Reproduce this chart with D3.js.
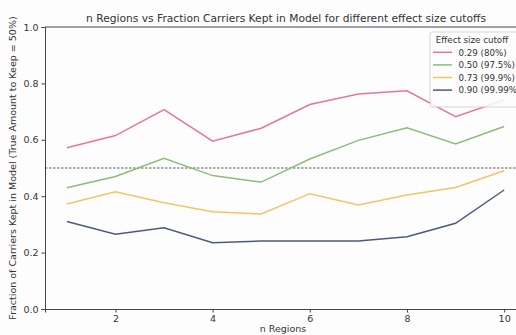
<!DOCTYPE html>
<html>
<head>
<meta charset="utf-8">
<script src="https://cdn.jsdelivr.net/npm/d3@7"></script>
<style>
  html, body { margin: 0; padding: 0; background: #fdfdfe; }
  svg { display: block; }
  text { font-family: "DejaVu Sans", sans-serif; fill: #333; }
</style>
</head>
<body>
<svg id="chart" width="516" height="335"></svg>
<script>
// Number of regions on the x axis
const nRegions = [1, 2, 3, 4, 5, 6, 7, 8, 9, 10];

// Fraction of carriers kept per effect size cutoff
const cutoff029 = [0.572, 0.615, 0.707, 0.595, 0.641, 0.725, 0.762, 0.774, 0.682, 0.741];
const cutoff050 = [0.430, 0.470, 0.534, 0.473, 0.450, 0.532, 0.598, 0.643, 0.585, 0.647];
const cutoff073 = [0.372, 0.416, 0.377, 0.345, 0.337, 0.409, 0.369, 0.404, 0.431, 0.490];
const cutoff090 = [0.310, 0.265, 0.288, 0.235, 0.241, 0.241, 0.241, 0.256, 0.304, 0.422];

const seriesLabels = ["0.29 (80%)", "0.50 (97.5%)", "0.73 (99.9%)", "0.90 (99.99%)"];
const seriesColors = ["#e8788c", "#8cbd78", "#f5c462", "#4c5a7c"];
const seriesValues = [cutoff029, cutoff050, cutoff073, cutoff090];

const xTicks = [2, 4, 6, 8, 10];
const yTicks = [0.0, 0.2, 0.4, 0.6, 0.8, 1.0];
const trueKeep = 0.5;

const svg = d3.select("#chart");
const plotLeft = 45, plotTop = 27, plotBottom = 309, plotRight = 526;

const x = d3.scaleLinear().domain([0.55, 10.45]).range([plotLeft, plotRight]);
const y = d3.scaleLinear().domain([0, 1]).range([plotBottom, plotTop]);

// Title
svg.append("text")
  .attr("x", 286).attr("y", 22)
  .attr("text-anchor", "middle")
  .style("font-size", "10.7px")
  .text("n Regions vs Fraction Carriers Kept in Model for different effect size cutoffs");

// Axes
const xAxis = svg.append("g")
  .attr("transform", `translate(0,${plotBottom})`)
  .call(d3.axisBottom(x).tickValues(xTicks).tickFormat(d3.format("d")).tickSize(3.5).tickPadding(3));
const yAxis = svg.append("g")
  .attr("transform", `translate(${plotLeft},0)`)
  .call(d3.axisLeft(y).tickValues(yTicks).tickFormat(d3.format(".1f")).tickSize(3.5).tickPadding(3));
[xAxis, yAxis].forEach(g => {
  g.selectAll("path.domain").attr("stroke", "#444").attr("stroke-width", 1);
  g.selectAll(".tick line").attr("stroke", "#444");
  g.selectAll(".tick text").style("font-size", "9.5px").style("font-family", "DejaVu Sans, sans-serif").attr("fill", "#333");
});

// Top spine
svg.append("line")
  .attr("x1", plotLeft).attr("x2", plotRight)
  .attr("y1", plotTop).attr("y2", plotTop)
  .attr("stroke", "#444").attr("stroke-width", 1);

// Axis labels
svg.append("text")
  .attr("x", 283).attr("y", 332)
  .attr("text-anchor", "middle")
  .style("font-size", "9.5px")
  .text("n Regions");
svg.append("text")
  .attr("transform", `translate(16,${(plotTop + plotBottom) / 2}) rotate(-90)`)
  .attr("text-anchor", "middle")
  .style("font-size", "9.5px")
  .text("Fraction of Carriers Kept in Model (True Amount to Keep = 50%)");

// Reference line at the true keep fraction
svg.append("line")
  .attr("x1", plotLeft).attr("x2", plotRight)
  .attr("y1", y(trueKeep)).attr("y2", y(trueKeep))
  .attr("stroke", "#333").attr("stroke-width", 0.8)
  .attr("stroke-dasharray", "2.5,1.5");

// Series lines
const line = d3.line().x((d, i) => x(nRegions[i])).y(d => y(d));
seriesValues.forEach((vals, k) => {
  svg.append("path")
    .datum(vals)
    .attr("d", line)
    .attr("fill", "none")
    .attr("stroke", seriesColors[k])
    .attr("stroke-width", 1.5);
});

// Legend
const lg = svg.append("g");
lg.append("rect")
  .attr("x", 430).attr("y", 32)
  .attr("width", 100).attr("height", 75)
  .attr("rx", 2)
  .attr("fill", "#fdfdfe").attr("fill-opacity", 0.85)
  .attr("stroke", "#ccc").attr("stroke-width", 0.8);
lg.append("text")
  .attr("x", 472).attr("y", 42.5)
  .attr("text-anchor", "middle")
  .style("font-size", "8.7px")
  .text("Effect size cutoff");
seriesLabels.forEach((lab, k) => {
  const yy = 52.3 + k * 12.6;
  lg.append("line")
    .attr("x1", 433).attr("x2", 452)
    .attr("y1", yy).attr("y2", yy)
    .attr("stroke", seriesColors[k]).attr("stroke-width", 1.5);
  lg.append("text")
    .attr("x", 458.5).attr("y", yy + 3.2)
    .style("font-size", "8.7px")
    .text(lab);
});
</script>
</body>
</html>
